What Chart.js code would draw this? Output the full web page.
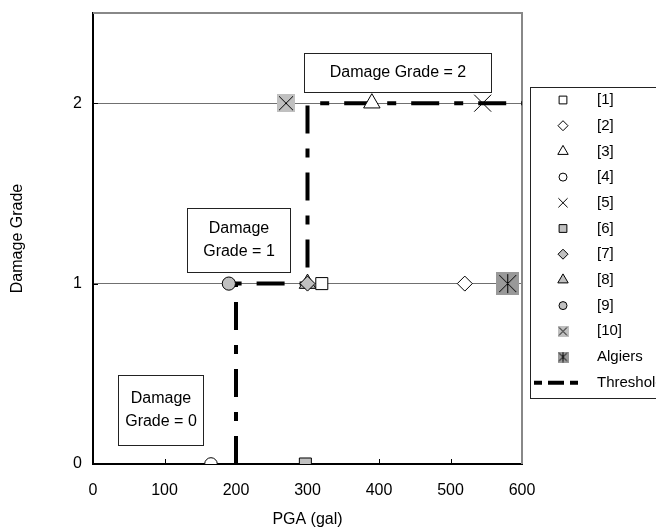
<!DOCTYPE html>
<html><head><meta charset="utf-8">
<style>html,body{margin:0;padding:0;background:#fff;}#wrap{width:656px;height:529px;overflow:hidden;}</style>
<script src="https://cdn.jsdelivr.net/npm/chart.js@4/dist/chart.umd.min.js"></script>
</head><body><div id="wrap"><canvas id="c" width="656" height="529"></canvas></div>
<script>
const FONT = "'Liberation Sans', Arial, Helvetica, sans-serif";

// ---- data ----
const seriesNames = ['[1]', '[2]', '[3]', '[4]', '[5]', '[6]', '[7]', '[8]', '[9]', '[10]', 'Algiers'];
const pgaValues   = [320, 520, 390, 165, 545, 297, 300, 300, 190, 270, 580];
const gradeValues = [1, 1, 2, 0, 2, 0, 1, 1, 1, 2, 1];
const thresholdName = 'Threshold';
const thresholdPGA   = [200, 200, 300, 300, 600];
const thresholdGrade = [0, 1, 1, 2, 2];
const xTickValues = [0, 100, 200, 300, 400, 500, 600];
const yTickValues = [0, 1, 2];
const boxTexts = [['Damage Grade = 2'], ['Damage', 'Grade = 1'], ['Damage', 'Grade = 0']];

// ---- styles ----
const WHITE = '#ffffff', GREY = '#c0c0c0', DARKGREY = '#999999';
function boxMarker(size, fill, pad, vertical) {
  const c = document.createElement('canvas');
  c.width = size; c.height = size;
  const g = c.getContext('2d');
  g.fillStyle = fill; g.fillRect(0, 0, size, size);
  g.strokeStyle = '#000'; g.lineWidth = 1;
  g.beginPath();
  g.moveTo(pad, pad); g.lineTo(size - pad, size - pad);
  g.moveTo(size - pad, pad); g.lineTo(pad, size - pad);
  if (vertical) { g.moveTo(size / 2, pad - 1); g.lineTo(size / 2, size - pad + 1); }
  g.stroke();
  return c;
}
const marker10 = boxMarker(18, GREY, 2, false);
const markerAlg = boxMarker(23, DARKGREY, 3, true);
const marker10s = boxMarker(11, GREY, 1.5, false);
const markerAlgs = boxMarker(11, DARKGREY, 1.5, true);

const pStyles = ['rect', 'rectRot', 'triangle', 'circle', 'crossRot', 'rect', 'rectRot', 'triangle', 'circle', marker10, markerAlg];
const legStyles = ['rect', 'rectRot', 'triangle', 'circle', 'crossRot', 'rect', 'rectRot', 'triangle', 'circle', marker10s, markerAlgs];
const pRadius = [8.5, 7.5, 9.5, 6.3, 12, 8.5, 7.5, 9.5, 6.6, 9, 12];
const legRadius = [5.5, 5, 6, 4, 6.5, 5.5, 5, 6, 4, 5.5, 5.5];
const pFill = [WHITE, WHITE, WHITE, WHITE, 'rgba(0,0,0,0)', GREY, GREY, GREY, GREY, GREY, DARKGREY];

const datasets = seriesNames.map((name, i) => ({
  label: name,
  data: [{ x: pgaValues[i], y: gradeValues[i] }],
  pointStyle: pStyles[i],
  pointRadius: pRadius[i],
  pointHoverRadius: pRadius[i],
  backgroundColor: pFill[i],
  borderColor: '#000',
  borderWidth: 1,
  order: 0
}));
datasets.push({
  label: thresholdName,
  data: thresholdPGA.map((x, i) => ({ x: x, y: thresholdGrade[i] })),
  showLine: true,
  borderColor: '#000',
  borderWidth: 4,
  borderDash: [28, 15, 9, 15],
  borderCapStyle: 'butt',
  pointRadius: 0,
  pointHoverRadius: 0,
  fill: false,
  tension: 0,
  order: 1
});

// annotation box placement (data coordinates)
const boxPlacement = [
  { x1: 295, x2: 556, yTop: 2.28, yBot: 2.064 },
  { x1: 131.5, x2: 275, yTop: 1.42, yBot: 1.065 },
  { x1: 35.3, x2: 154, yTop: 0.494, yBot: 0.105 }
];

function drawSymbol(ctx, style, radius, fill, x, y) {
  ctx.save();
  ctx.fillStyle = fill; ctx.strokeStyle = '#000'; ctx.lineWidth = 1;
  if (Chart.helpers && Chart.helpers.drawPoint) {
    Chart.helpers.drawPoint(ctx, { pointStyle: style, radius: radius, borderWidth: 1, rotation: 0 }, x, y);
  } else if (style instanceof HTMLCanvasElement) {
    ctx.drawImage(style, x - style.width / 2, y - style.height / 2);
  } else {
    ctx.beginPath(); ctx.arc(x, y, radius, 0, Math.PI * 2); ctx.fill(); ctx.stroke();
  }
  ctx.restore();
}

const decor = {
  id: 'decor',
  beforeDatasetsDraw(chart) {
    const { ctx, chartArea: a } = chart;
    ctx.save();
    ctx.strokeStyle = '#888'; ctx.lineWidth = 2;
    ctx.beginPath();
    ctx.moveTo(a.left, a.top); ctx.lineTo(a.right, a.top); ctx.lineTo(a.right, a.bottom);
    ctx.stroke();
    const xs = chart.scales.x, ys = chart.scales.y;
    ctx.strokeStyle = '#000'; ctx.lineWidth = 1;
    ctx.beginPath();
    xTickValues.slice(1, -1).forEach(v => {
      const px = Math.round(xs.getPixelForValue(v)) + 0.5;
      ctx.moveTo(px, a.bottom); ctx.lineTo(px, a.bottom - 5);
    });
    yTickValues.slice(1).forEach(v => {
      const py = Math.round(ys.getPixelForValue(v)) + 0.5;
      ctx.moveTo(a.left, py); ctx.lineTo(a.left + 5, py);
    });
    ctx.stroke();
    ctx.restore();
  },
  afterDraw(chart) {
    const { ctx } = chart;
    const xs = chart.scales.x, ys = chart.scales.y;
    ctx.save();
    ctx.font = '16px ' + FONT;
    ctx.textAlign = 'center'; ctx.textBaseline = 'middle';
    boxPlacement.forEach((b, i) => {
      const l = Math.round(xs.getPixelForValue(b.x1)) + 0.5, r = Math.round(xs.getPixelForValue(b.x2)) + 0.5;
      const t = Math.round(ys.getPixelForValue(b.yTop)) + 0.5, bt = Math.round(ys.getPixelForValue(b.yBot)) + 0.5;
      ctx.fillStyle = '#fff'; ctx.fillRect(l, t, r - l, bt - t);
      ctx.strokeStyle = '#222'; ctx.lineWidth = 1; ctx.strokeRect(l, t, r - l, bt - t);
      ctx.fillStyle = '#000';
      const lines = boxTexts[i];
      const lh = 23, cy = (t + bt) / 2;
      lines.forEach((s, k) => ctx.fillText(s, (l + r) / 2, cy + (k - (lines.length - 1) / 2) * lh));
    });
    // legend
    const lx = 530.5, ly = 87.5, lw = 200, lhgt = 311;
    ctx.fillStyle = '#fff'; ctx.fillRect(lx, ly, lw, lhgt);
    ctx.strokeStyle = '#222'; ctx.lineWidth = 1; ctx.strokeRect(lx, ly, lw, lhgt);
    ctx.font = '15px ' + FONT; ctx.textAlign = 'left'; ctx.textBaseline = 'middle';
    const rowH = 25.7, y0 = 100;
    seriesNames.forEach((name, i) => {
      const y = y0 + i * rowH;
      drawSymbol(ctx, legStyles[i], legRadius[i], pFill[i], 563, y);
      ctx.fillStyle = '#000'; ctx.fillText(name, 597, y);
    });
    const yt = y0 + seriesNames.length * rowH;
    ctx.save();
    ctx.strokeStyle = '#000'; ctx.lineWidth = 4; ctx.setLineDash([8, 6, 16, 6]);
    ctx.beginPath(); ctx.moveTo(534, yt); ctx.lineTo(584, yt); ctx.stroke();
    ctx.restore();
    ctx.fillStyle = '#000'; ctx.fillText(thresholdName, 597, yt);
    ctx.restore();
  }
};

function zeroPad(s) { s.paddingTop = 0; s.paddingBottom = 0; s.paddingLeft = 0; s.paddingRight = 0; }

new Chart(document.getElementById('c'), {
  type: 'scatter',
  data: { datasets: datasets },
  options: {
    responsive: false,
    animation: false,
    devicePixelRatio: 1,
    layout: { padding: { top: 13, right: 134, bottom: 0, left: 0 } },
    plugins: { legend: { display: false }, tooltip: { enabled: false } },
    scales: {
      x: {
        type: 'linear', min: 0, max: 600,
        afterBuildTicks: s => { s.ticks = xTickValues.map(v => ({ value: v })); },
        afterFit: s => { s.height = 65; zeroPad(s); },
        ticks: { color: '#000', font: { size: 16, family: FONT }, padding: 17, maxRotation: 0 },
        grid: { display: false, drawTicks: false },
        border: { display: true, color: '#000', width: 2 },
        title: { display: true, text: 'PGA (gal)', color: '#000', font: { size: 16, family: FONT }, padding: { top: 0, bottom: 0 } }
      },
      y: {
        type: 'linear', min: 0, max: 2.5,
        afterBuildTicks: s => { s.ticks = yTickValues.map(v => ({ value: v })); },
        afterFit: s => { s.width = 93; zeroPad(s); },
        ticks: { color: '#000', font: { size: 16, family: FONT }, padding: 11 },
        grid: { drawTicks: false, lineWidth: 1, color: c => (c.tick && c.tick.value > 0) ? '#707070' : 'rgba(0,0,0,0)' },
        border: { display: true, color: '#000', width: 2 },
        title: { display: true, text: 'Damage Grade', color: '#000', font: { size: 16, family: FONT }, padding: { top: 8, bottom: 0 } }
      }
    }
  },
  plugins: [decor]
});
</script></body></html>
